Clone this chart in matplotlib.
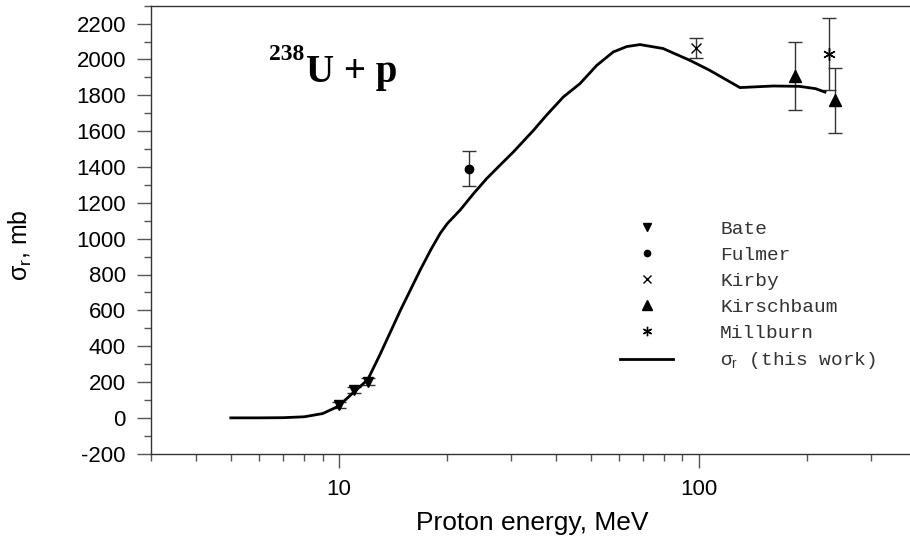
import numpy as np
import matplotlib
matplotlib.use('Agg')
import matplotlib.pyplot as plt
from matplotlib.ticker import LogLocator, FixedLocator, NullFormatter, MultipleLocator

plt.rcParams['font.family'] = ['Liberation Sans', 'DejaVu Sans']
plt.rcParams['mathtext.fontset'] = 'custom'
plt.rcParams['mathtext.rm'] = 'Liberation Sans'
plt.rcParams['mathtext.it'] = 'Liberation Sans:italic'
plt.rcParams['mathtext.bf'] = 'Liberation Sans:bold'
plt.rcParams['axes.unicode_minus'] = False

# calculated reaction cross section (this work)
calc_e = [5, 6, 7, 8, 9, 9.6, 10, 11, 12, 13, 14, 14.8, 16.8, 18, 19.1, 20, 21.7, 23.6,
          25.7, 28, 30.5, 34.7, 37.7, 42, 46.7, 52, 57.8, 63, 68.6, 79.5, 94.4, 107,
          130, 161, 190, 211, 224]
calc_sigma = [0, 0, 1, 6, 24, 50, 68, 145, 212, 355, 495, 600, 825, 940, 1030, 1085,
              1160, 1250, 1335, 1410, 1484, 1605, 1689, 1791, 1865, 1967, 2042, 2072,
              2083, 2061, 1995, 1940, 1843, 1852, 1850, 1837, 1818]

# experimental data
bate_e = [10, 11, 12]
bate_sigma = [72, 155, 201]
bate_err = [15, 15, 19]

fulmer_e = [23.0]
fulmer_sigma = [1391]
fulmer_err = [98]

kirby_e = [98]
kirby_sigma = [2064]
kirby_err = [58]

kirsch_e = [184.5, 239.6]
kirsch_sigma = [1906, 1772]
kirsch_err = [190, 180]

millburn_e = [230]
millburn_sigma = [2031]
millburn_err = [203]

fig = plt.figure(figsize=(9.1, 5.4), dpi=100)
ax = fig.add_axes([151 / 910, 1 - 453.7 / 540, 1 - 151 / 910, (453.7 - 5.7) / 540])

line, = ax.plot(calc_e, calc_sigma, color='black', lw=2, zorder=3,
                solid_joinstyle='round')

err_kw = dict(fmt='none', ecolor='#333333', elinewidth=1, capsize=5, capthick=1, zorder=2)
ax.errorbar(bate_e, bate_sigma, yerr=bate_err, **err_kw)
ax.errorbar(fulmer_e, fulmer_sigma, yerr=fulmer_err, **err_kw)
ax.errorbar(kirby_e, kirby_sigma, yerr=kirby_err, **err_kw)
ax.errorbar(kirsch_e, kirsch_sigma, yerr=kirsch_err, **err_kw)
ax.errorbar(millburn_e, millburn_sigma, yerr=millburn_err, **err_kw)

h1, = ax.plot(bate_e, bate_sigma, 'v', color='black', ms=7, ls='none', zorder=4)
h2, = ax.plot(fulmer_e, fulmer_sigma, 'o', color='black', ms=6, ls='none', zorder=4)
h3, = ax.plot(kirby_e, kirby_sigma, 'x', color='black', ms=7, mew=1, ls='none', zorder=4)
h4, = ax.plot(kirsch_e, kirsch_sigma, '^', color='black', ms=9, ls='none', zorder=4)
h5, = ax.plot(millburn_e, millburn_sigma, marker=(6, 2, 0), color='black', ms=9, mew=1,
              ls='none', zorder=4)

ax.set_xscale('log')
ax.set_xlim(3, 386)
ax.set_ylim(-200, 2300)

ax.xaxis.set_major_locator(FixedLocator([10, 100]))
ax.xaxis.set_major_formatter(matplotlib.ticker.FuncFormatter(lambda v, p: '%d' % v))
ax.xaxis.set_minor_locator(LogLocator(base=10, subs=np.arange(2, 10), numticks=20))
ax.xaxis.set_minor_formatter(NullFormatter())
ax.yaxis.set_minor_locator(MultipleLocator(100))
ax.set_yticks(np.arange(-200, 2201, 200))

ax.tick_params(which='major', direction='out', length=10, width=1, color='#555555',
               labelsize=16, pad=8)
ax.tick_params(which='minor', direction='out', length=5, width=1, color='#555555')
ax.tick_params(top=False, right=False, which='both')

for s in ['left', 'bottom', 'top']:
    ax.spines[s].set_color('#333333')
    ax.spines[s].set_linewidth(1)
ax.spines['right'].set_visible(False)

fig.text(532 / 910, 1 - 530 / 540, 'Proton energy, MeV', ha='center', va='baseline',
         fontsize=19)
fig.text(20 / 910, 1 - 245 / 540, 'σ$_{\\mathrm{r}}$, mb', ha='center', va='center',
         rotation=90, fontsize=18)

fig.text(304 / 910, 1 - 60 / 540, '238', ha='right', va='baseline', fontsize=17,
         family='Liberation Serif', weight='bold')
fig.text(306 / 910, 1 - 81.7 / 540, 'U + p', ha='left', va='baseline', fontsize=28,
         family='Liberation Serif', weight='bold')

leg = ax.legend([h1, h2, h3, h4, h5, line],
                ['Bate', 'Fulmer', 'Kirby', 'Kirschbaum', 'Millburn',
                 'σ$_{\\mathrm{r}}$ (this work)'],
                loc='upper left', bbox_to_anchor=(620 / 910, 1 - 220.5 / 540),
                bbox_transform=fig.transFigure, frameon=False, borderpad=0,
                borderaxespad=0, handlelength=2.73, handletextpad=2.42,
                labelspacing=0.43, markerscale=0.75,
                prop={'family': 'Liberation Mono', 'size': 14})
for t in leg.get_texts():
    t.set_color('#333333')

fig.savefig('out.png', dpi=100)
